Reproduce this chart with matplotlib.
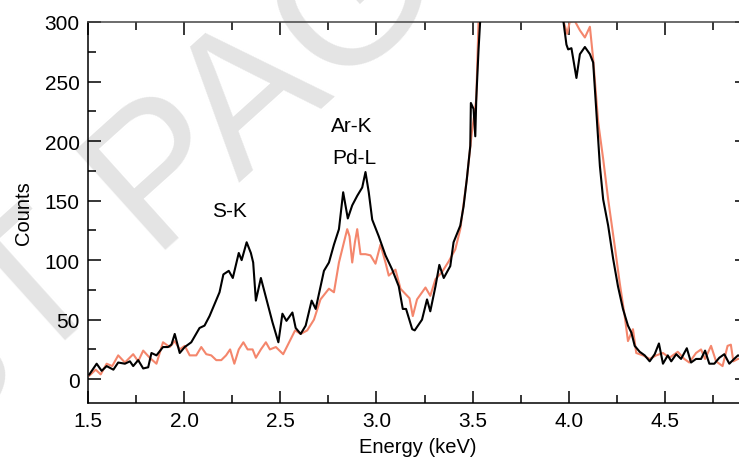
import numpy as np
import matplotlib
matplotlib.use("Agg")
import matplotlib.pyplot as plt
from matplotlib.ticker import MultipleLocator

plt.rcParams["font.family"] = ["Liberation Sans", "DejaVu Sans"]

# black spectrum (energy keV, counts)
energy_a = [1.507, 1.545, 1.571, 1.597, 1.632, 1.657, 1.692, 1.718, 1.735, 1.761,
            1.787, 1.813, 1.830, 1.856, 1.890, 1.916, 1.934, 1.951, 1.977, 2.003,
            2.037, 2.080, 2.106, 2.132, 2.158, 2.184, 2.204, 2.232, 2.253, 2.284,
            2.299, 2.325, 2.347, 2.359, 2.373, 2.399, 2.425, 2.459, 2.490, 2.511,
            2.532, 2.563, 2.580, 2.606, 2.632, 2.663, 2.684, 2.727, 2.753, 2.779,
            2.805, 2.827, 2.851, 2.874, 2.900, 2.926, 2.943, 2.960, 2.978, 3.012,
            3.047, 3.082, 3.116, 3.137, 3.154, 3.186, 3.199, 3.237, 3.263, 3.280,
            3.307, 3.327, 3.350, 3.384, 3.401, 3.436, 3.453, 3.470, 3.488, 3.491,
            3.505, 3.514, 3.519, 3.531, 3.540, 3.56, 3.65, 3.80, 3.90, 3.95,
            3.972, 3.980, 3.988, 3.997, 4.014, 4.040, 4.058, 4.084, 4.110, 4.127,
            4.144, 4.162, 4.179, 4.205, 4.231, 4.256, 4.282, 4.308, 4.326, 4.343,
            4.369, 4.395, 4.421, 4.447, 4.469, 4.490, 4.515, 4.533, 4.559, 4.584,
            4.614, 4.636, 4.662, 4.688, 4.709, 4.731, 4.757, 4.783, 4.809, 4.835,
            4.860, 4.880, 4.93]
counts_a = [4, 13, 7, 11, 8, 14, 13, 15, 11, 16,
            9, 10, 22, 20, 27, 27, 29, 38, 22, 27,
            31, 43, 45, 53, 63, 73, 88, 91, 85, 106,
            100, 115, 106, 98, 66, 85, 69, 48, 31, 55,
            49, 56, 43, 38, 45, 66, 59, 91, 98, 113,
            126, 157, 135, 146, 154, 161, 174, 157, 134, 120,
            104, 92, 78, 59, 59, 42, 41, 50, 67, 57,
            78, 96, 85, 95, 115, 129, 145, 168, 196, 232,
            227, 204, 235, 277, 302, 360, 520, 600, 480, 340,
            301, 291, 281, 277, 278, 253, 273, 279, 273, 266,
            224, 179, 151, 129, 101, 78, 59, 45, 39, 28,
            23, 20, 15, 21, 30, 13, 20, 15, 21, 17,
            26, 14, 17, 17, 24, 13, 13, 18, 21, 13,
            17, 20, 18]

# salmon spectrum
energy_b = [1.507, 1.540, 1.566, 1.597, 1.626, 1.657, 1.692, 1.735, 1.761, 1.787,
            1.821, 1.856, 1.890, 1.925, 1.951, 1.977, 2.003, 2.029, 2.063, 2.089,
            2.115, 2.141, 2.167, 2.193, 2.218, 2.239, 2.261, 2.284, 2.308, 2.330,
            2.356, 2.373, 2.399, 2.425, 2.446, 2.477, 2.515, 2.546, 2.577, 2.606,
            2.640, 2.675, 2.709, 2.753, 2.779, 2.805, 2.831, 2.848, 2.860, 2.874,
            2.888, 2.900, 2.917, 2.943, 2.969, 2.995, 3.021, 3.047, 3.064, 3.099,
            3.125, 3.154, 3.172, 3.189, 3.211, 3.255, 3.280, 3.307, 3.341, 3.376,
            3.410, 3.436, 3.470, 3.496, 3.519, 3.531, 3.56, 3.65, 3.80, 3.90,
            3.95, 3.972, 3.992, 4.005, 4.031, 4.058, 4.084, 4.110, 4.127, 4.153,
            4.179, 4.205, 4.239, 4.265, 4.291, 4.308, 4.334, 4.351, 4.386, 4.421,
            4.455, 4.490, 4.524, 4.567, 4.601, 4.627, 4.662, 4.688, 4.709, 4.740,
            4.766, 4.800, 4.826, 4.843, 4.856, 4.880, 4.93]
counts_b = [3, 8, 4, 13, 11, 20, 14, 21, 15, 24,
            18, 13, 31, 27, 32, 25, 28, 20, 20, 27,
            21, 20, 16, 16, 20, 25, 13, 25, 31, 25,
            25, 18, 25, 31, 25, 27, 21, 31, 41, 38,
            41, 50, 67, 76, 73, 98, 115, 126, 120, 98,
            115, 126, 105, 105, 104, 97, 113, 98, 87, 92,
            76, 71, 68, 53, 67, 77, 70, 84, 90, 99,
            109, 126, 168, 207, 235, 301, 380, 540, 620, 500,
            340, 301, 290, 300, 301, 293, 287, 296, 269, 216,
            185, 151, 112, 81, 53, 32, 42, 22, 20, 17,
            20, 22, 18, 23, 17, 14, 22, 25, 17, 28,
            15, 11, 28, 29, 15, 17, 18]

peak_labels = ["S-K", "Ar-K", "Pd-L"]
peak_x = [2.236, 2.873, 2.883]
peak_y = [142, 213, 186]

fig = plt.figure(figsize=(7.39, 4.64), dpi=100)
ax = fig.add_axes([88 / 739, 60 / 464, 659 / 739, 381 / 464])
ax.set_facecolor("none")

# watermark, behind the axes
fig.text(112 / 739, 1 - 230 / 464, "TEST PAGE", rotation=42, fontsize=140,
         color="#E4E4E4", ha="center", va="center", zorder=-5)

ax.plot(energy_b, counts_b, color="#F4866C", lw=1.5, zorder=2)
ax.plot(energy_a, counts_a, color="black", lw=1.5, zorder=3)

for lab, x, y in zip(peak_labels, peak_x, peak_y):
    ax.text(x, y, lab, ha="center", va="center", fontsize=15)

ax.set_xlim(1.5, 4.927)
ax.set_ylim(-20, 300)
ax.xaxis.set_major_locator(MultipleLocator(0.5))
ax.xaxis.set_minor_locator(MultipleLocator(0.25))
ax.yaxis.set_major_locator(MultipleLocator(50))
ax.yaxis.set_minor_locator(MultipleLocator(25))
ax.xaxis.set_major_formatter(plt.FuncFormatter(lambda v, p: f"{v:.1f}"))
ax.tick_params(which="both", direction="in", top=True, right=True,
               width=1.1, labelsize=15, pad=6)
ax.tick_params(which="major", length=9)
ax.tick_params(which="minor", length=5.5)
for s in ax.spines.values():
    s.set_linewidth(1.1)
ax.spines["top"].set_color("#444444")

ax.set_xlabel("Energy (keV)", fontsize=14.5, labelpad=5)
ax.set_ylabel("Counts", fontsize=14.5, labelpad=8)

fig.savefig("out.png", dpi=100)
